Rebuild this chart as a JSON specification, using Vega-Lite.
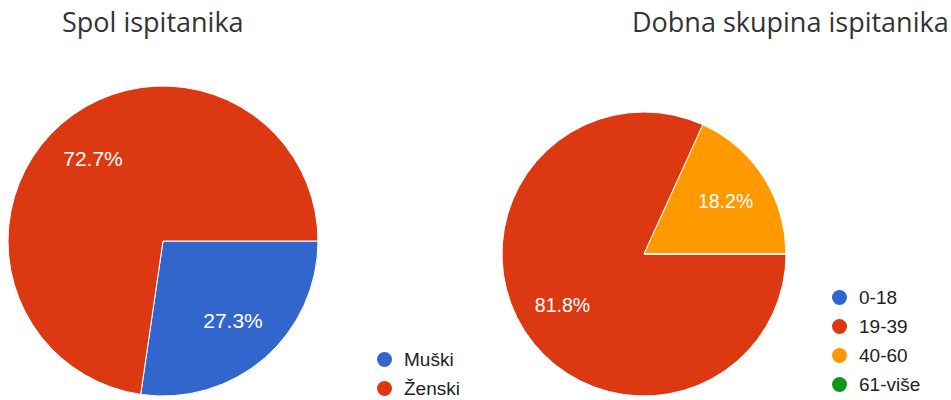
{
  "$schema": "https://vega.github.io/schema/vega-lite/v6.json",
  "padding": {"left": 0, "top": 10, "right": 0, "bottom": 0},
  "spacing": 176,
  "bounds": "flush",
  "background": "white",
  "config": {"view": {"stroke": null}, "font": "Liberation Sans"},
  "datasets": {
    "spol": [
      {"kategorija": "Muški", "udio": 0.273},
      {"kategorija": "Ženski", "udio": 0.727}
    ],
    "dob": [
      {"skupina": "0-18", "udio": 0},
      {"skupina": "19-39", "udio": 0.818},
      {"skupina": "40-60", "udio": 0.182},
      {"skupina": "61-više", "udio": 0}
    ]
  },
  "resolve": {"scale": {"color": "independent", "theta": "independent"}, "legend": {"color": "independent"}},
  "hconcat": [
    {
      "width": 326,
      "height": 180,
      "title": {"text": "Spol ispitanika", "anchor": "start", "frame": "group", "dx": 62, "offset": 25, "baseline": "alphabetic", "font": "Open Sans", "fontSize": 27, "fontWeight": "normal", "color": "#333333"},
      "data": {"name": "spol"},
      "encoding": {
        "theta": {"field": "udio", "type": "quantitative", "stack": true, "scale": {"range": [1.5708, 7.854]}},
        "color": {
          "field": "kategorija", "type": "nominal",
          "scale": {"domain": ["Muški", "Ženski"], "range": ["#3366CC", "#DC3912"]},
          "legend": {"title": null, "orient": "none", "legendX": 375, "legendY": 199, "symbolType": "circle", "symbolSize": 225, "symbolStrokeWidth": 0, "labelFontSize": 19, "labelColor": "#222222", "labelOffset": 10, "rowPadding": 9, "padding": 0}
        }
      },
      "layer": [
        {"mark": {"type": "arc", "outerRadius": 155, "stroke": "white", "strokeWidth": 1}},
        {
          "transform": [{"filter": "datum.udio > 0"}],
          "mark": {"type": "text", "radius": 107, "fill": "white", "fontSize": 21},
          "encoding": {"text": {"field": "udio", "type": "quantitative", "format": ".1%"}}
        }
      ]
    },
    {
      "width": 284,
      "height": 206,
      "title": {"text": "Dobna skupina ispitanika", "anchor": "start", "frame": "group", "dx": 130, "offset": 51, "baseline": "alphabetic", "font": "Open Sans", "fontSize": 27, "fontWeight": "normal", "color": "#333333"},
      "data": {"name": "dob"},
      "encoding": {
        "theta": {"field": "udio", "type": "quantitative", "stack": true, "scale": {"range": [1.5708, 7.854]}},
        "color": {
          "field": "skupina", "type": "nominal",
          "scale": {"domain": ["0-18", "19-39", "40-60", "61-više"], "range": ["#3366CC", "#DC3912", "#FF9900", "#109618"]},
          "legend": {"title": null, "orient": "none", "legendX": 328, "legendY": 137, "symbolType": "circle", "symbolSize": 225, "symbolStrokeWidth": 0, "labelFontSize": 19, "labelColor": "#222222", "labelOffset": 10, "rowPadding": 9, "padding": 0}
        }
      },
      "layer": [
        {"mark": {"type": "arc", "outerRadius": 142, "stroke": "white", "strokeWidth": 1}},
        {
          "transform": [{"filter": "datum.udio > 0"}],
          "mark": {"type": "text", "radius": 97, "fill": "white", "fontSize": 19.5},
          "encoding": {"text": {"field": "udio", "type": "quantitative", "format": ".1%"}}
        }
      ]
    }
  ]
}
